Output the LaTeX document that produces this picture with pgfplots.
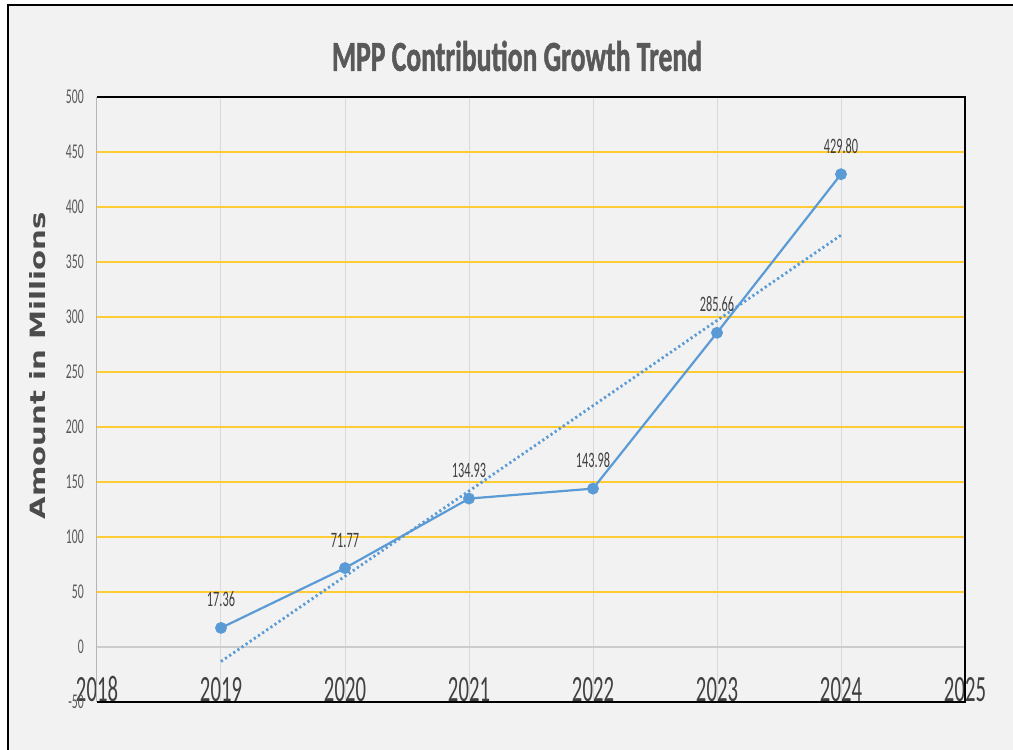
\documentclass[border=0pt]{standalone}
\usepackage{pgfplots}
\pgfplotsset{compat=1.18}
\usepackage{fontspec}
\setmainfont{Carlito}
\newfontfamily\cond[FakeStretch=0.56]{Carlito}
\newfontfamily\tfont[FakeBold=1.6]{Carlito Bold}
\newfontfamily\dvs{DejaVu Sans}
\definecolor{bg}{HTML}{F2F2F2}
\definecolor{lineblue}{HTML}{5B9BD5}
\definecolor{gold}{HTML}{FFCC33}
\definecolor{zerogray}{HTML}{CCCCCC}
\definecolor{vgrid}{HTML}{D9D9D9}
\definecolor{txt}{HTML}{595959}
\definecolor{dark}{HTML}{404040}
\begin{document}
\begin{tikzpicture}[x=1pt,y=1pt]
\useasboundingbox (0,0) rectangle (1013,750);
\fill[white] (0,0) rectangle (1013,750);
\fill[bg] (8,0) rectangle (1013,745);
\draw[black,line width=1.5pt] (8,0) -- (8,745) -- (1013,745);
\begin{axis}[
  at={(97pt,48pt)}, anchor=south west,
  scale only axis, width=868pt, height=605pt,
  xmin=2018, xmax=2025, ymin=-50, ymax=500,
  xtick={2018,2019,2020,2021,2022,2023,2024,2025},
  xticklabels={2018,2019,2020,2021,2022,2023,2024,2025},
  ytick={-50,0,50,100,150,200,250,300,350,400,450,500},
  yticklabels={-50,0,50,100,150,200,250,300,350,400,450,500},
  major tick length=0pt,
  xmajorgrids, ymajorgrids,
  x grid style={color=vgrid, line width=1pt},
  y grid style={color=gold, line width=1.2pt},
  axis line style={draw=none},
  xticklabel style={font=\cond\fontsize{37}{37}\selectfont, text=dark, anchor=base, inner sep=0pt},
  yticklabel style={font=\cond\fontsize{21}{21}\selectfont, text=txt, anchor=east, inner sep=0pt, xshift=-13pt},
  clip=false,
]
\addplot[zerogray, line width=1.2pt, forget plot] coordinates {(2018,0) (2025,0)};
\addplot[lineblue, line width=2.8pt, dash pattern=on 2.2pt off 2.8pt, forget plot] coordinates {(2019,-13.20) (2024,374.36)};
\addplot[lineblue, line width=2.2pt, mark=*, mark size=4.8pt, mark options={solid},
  point meta=explicit symbolic, nodes near coords,
  every node near coord/.append style={font=\cond\fontsize{22}{22}\selectfont, text=dark, anchor=base, inner sep=0pt, yshift=21pt}]
  coordinates {(2019,17.36) [17.36] (2020,71.77) [71.77] (2021,134.93) [134.93] (2022,143.98) [143.98] (2023,285.66) [285.66] (2024,429.80) [429.80]};
\draw[color=vgrid!60!gray, line width=1pt] (rel axis cs:0,0) -- (rel axis cs:0,1);
\draw[black, line width=1.2pt] (rel axis cs:0,1) -- (rel axis cs:1,1) -- (rel axis cs:1,0) -- (rel axis cs:0,0);
\end{axis}
\node[text=txt, inner sep=0pt] at (517,694) {\resizebox{370pt}{30pt}{\tfont MPP Contribution Growth Trend}};
\node[rotate=90, text=txt!85!black, inner sep=0pt] at (38,384) {\resizebox{307pt}{16pt}{\dvs\bfseries Amount in Millions}};
\end{tikzpicture}
\end{document}
